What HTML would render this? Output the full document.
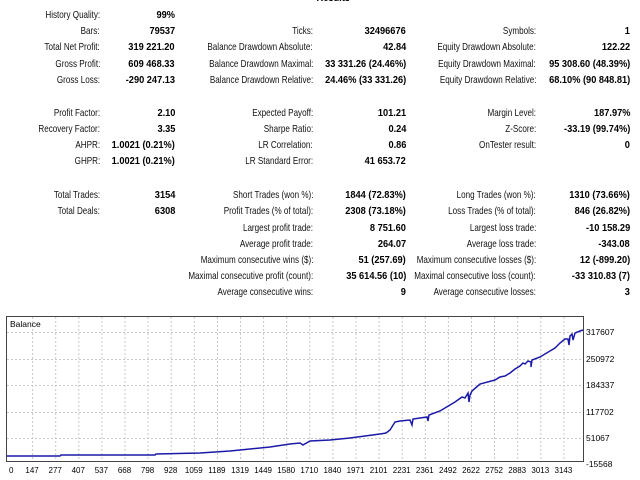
<!DOCTYPE html>
<html><head><meta charset="utf-8"><style>
body{margin:0;width:640px;height:480px;background:#fff;position:relative;overflow:hidden;font-family:"Liberation Sans",Tahoma,sans-serif;font-size:10.5px;color:#000}
.r{position:absolute;white-space:nowrap;transform-origin:right center}
.l{text-align:right;transform:scaleX(0.77);color:#111}
.v{font-weight:bold;text-align:right;transform:scaleX(0.88)}
</style></head><body>
<div class="r v" style="right:290px;top:-8px">Results</div>
<div id="t"></div>
<script>
var rows=[
[15,"History Quality:","99%"],
[31,"Bars:","79537","Ticks:","32496676","Symbols:","1"],
[47,"Total Net Profit:","319 221.20","Balance Drawdown Absolute:","42.84","Equity Drawdown Absolute:","122.22"],
[64,"Gross Profit:","609 468.33","Balance Drawdown Maximal:","33 331.26 (24.46%)","Equity Drawdown Maximal:","95 308.60 (48.39%)"],
[80,"Gross Loss:","-290 247.13","Balance Drawdown Relative:","24.46% (33 331.26)","Equity Drawdown Relative:","68.10% (90 848.81)"],
[113,"Profit Factor:","2.10","Expected Payoff:","101.21","Margin Level:","187.97%"],
[129,"Recovery Factor:","3.35","Sharpe Ratio:","0.24","Z-Score:","-33.19 (99.74%)"],
[145,"AHPR:","1.0021 (0.21%)","LR Correlation:","0.86","OnTester result:","0"],
[161,"GHPR:","1.0021 (0.21%)","LR Standard Error:","41 653.72"],
[195,"Total Trades:","3154","Short Trades (won %):","1844 (72.83%)","Long Trades (won %):","1310 (73.66%)"],
[211,"Total Deals:","6308","Profit Trades (% of total):","2308 (73.18%)","Loss Trades (% of total):","846 (26.82%)"],
[228,"","","Largest profit trade:","8 751.60","Largest loss trade:","-10 158.29"],
[244,"","","Average profit trade:","264.07","Average loss trade:","-343.08"],
[260,"","","Maximum consecutive wins ($):","51 (257.69)","Maximum consecutive losses ($):","12 (-899.20)"],
[276,"","","Maximal consecutive profit (count):","35 614.56 (10)","Maximal consecutive loss (count):","-33 310.83 (7)"],
[292,"","","Average consecutive wins:","9","Average consecutive losses:","3"]];
var cols=[100,175,313,406,536,630],h="";
rows.forEach(function(r){for(var i=1;i<r.length;i++){if(!r[i])continue;var c=(i%2)?"l":"v";
h+='<div class="r '+c+'" style="right:'+(640-cols[i-1])+'px;top:'+(r[0]-6)+'px">'+r[i]+'</div>';}});
document.getElementById("t").innerHTML=h;
</script>
<svg style="position:absolute;left:0;top:0" width="640" height="480">
<rect x="6.5" y="316.5" width="577" height="145" fill="#fff" stroke="#444"/>
<g stroke="#c8c8c8" stroke-dasharray="2,2" stroke-width="1">
<line x1="7" x2="583" y1="332.5" y2="332.5"/><line x1="7" x2="583" y1="359.5" y2="359.5"/><line x1="7" x2="583" y1="385.5" y2="385.5"/><line x1="7" x2="583" y1="412.5" y2="412.5"/><line x1="7" x2="583" y1="438.5" y2="438.5"/>
<g id="vg"></g>
</g>
<polyline fill="none" stroke="#1a1aa8" stroke-width="1.5" points="7,456 60,456 61,455 155,455 156,454 200,453 230,451 270,447 290,444 300,443 303,445 310,441 330,440 350,438 365,436 380,434 386,433 390,430 395,422 400,421 410,420 412,425 413,419 427,417 428,421 429,415 440,411 450,405 455,402 462,397 465,398 468,393 469,402 470,395 472,391 480,384 495,380 500,377 505,376 510,373 515,369 520,366 523,363 525,364 528,361 531,362 531,367 532,360 540,357 550,351 555,348 560,343 565,339 568,339 569,345 570,336 572,334 573,340 575,333 580,331 583,330"/>
<g font-size="8.5" fill="#000" font-family="Liberation Sans,sans-serif">
<text x="586" y="335">317607</text><text x="586" y="362">250972</text><text x="586" y="388">184337</text><text x="586" y="415">117702</text><text x="586" y="441">51067</text><text x="586" y="467">-15568</text>
<text x="10" y="327">Balance</text>
<g id="xl" font-size="8"></g>
</g>
</svg>
<script>
var xs=[0,147,277,407,537,668,798,928,1059,1189,1319,1449,1580,1710,1840,1971,2101,2231,2361,2492,2622,2752,2883,3013,3143],g="",l="";
xs.forEach(function(v,i){var x=9+i*23.1;if(i>0)g+='<line x1="'+(x+0.5)+'" x2="'+(x+0.5)+'" y1="317" y2="461"/>';
l+='<text x="'+x+'" y="473" text-anchor="'+(i?"middle":"start")+'">'+v+'</text>';});
document.getElementById("vg").innerHTML=g;document.getElementById("xl").innerHTML=l;
</script>
</body></html>
